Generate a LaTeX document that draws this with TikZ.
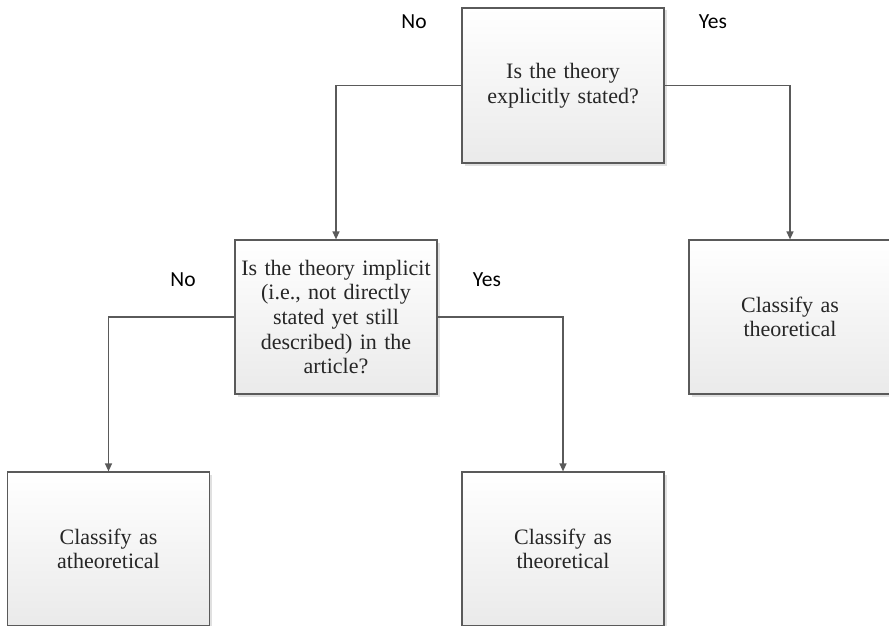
\documentclass[tikz,border=0pt]{standalone}
\usepackage{fontspec}
\setmainfont{Liberation Serif}
\newfontfamily\labelfont{Carlito}
\usetikzlibrary{arrows.meta,shadows}
\definecolor{edgegray}{HTML}{5A5A5A}
\definecolor{boxbottom}{HTML}{EAEAEA}
\tikzset{
  box/.style={draw=edgegray, line width=1.2pt, top color=white, bottom color=boxbottom,
    minimum width=202pt, minimum height=154pt, inner sep=0pt, text width=196pt, align=center,
    font=\fontsize{22}{24.7}\selectfont, text=black!85,
    drop shadow={shadow xshift=2.5pt, shadow yshift=-2.5pt, fill=black!12, opacity=1}},
  conn/.style={draw=edgegray, line width=1.3pt, -{Triangle[length=8pt,width=7pt]}},
  lbl/.style={font=\labelfont\fontsize{21.5}{24}\selectfont, text=black, inner sep=0pt}
}
\begin{document}
\begin{tikzpicture}[x=1pt,y=-1pt]
\useasboundingbox (0,0) rectangle (889,626);
\clip (0,0) rectangle (889,626);
\node[box, minimum height=155pt] (q1) at (563,85.5) {Is the theory\\explicitly stated?};
\node[box] (q2) at (336,317) {Is the theory implicit\\(i.e., not directly\\stated yet still\\described) in the\\article?};
\node[box] (r1) at (790,317) {Classify as\\theoretical};
\node[box] (r2) at (108.5,549) {Classify as\\atheoretical};
\node[box] (r3) at (563,549) {Classify as\\theoretical};
\draw[conn] (q1.west) -| (q2.north);
\draw[conn] (q1.east) -| (r1.north);
\draw[conn] (q2.west) -| (r2.north);
\draw[conn] (q2.east) -| (r3.north);
\node[lbl] (no1) at (414,22) {No};
\node[lbl] (yes1) at (713,22) {Yes};
\node[lbl] (no2) at (183,280) {No};
\node[lbl] (yes2) at (487,280) {Yes};
\end{tikzpicture}
\end{document}
